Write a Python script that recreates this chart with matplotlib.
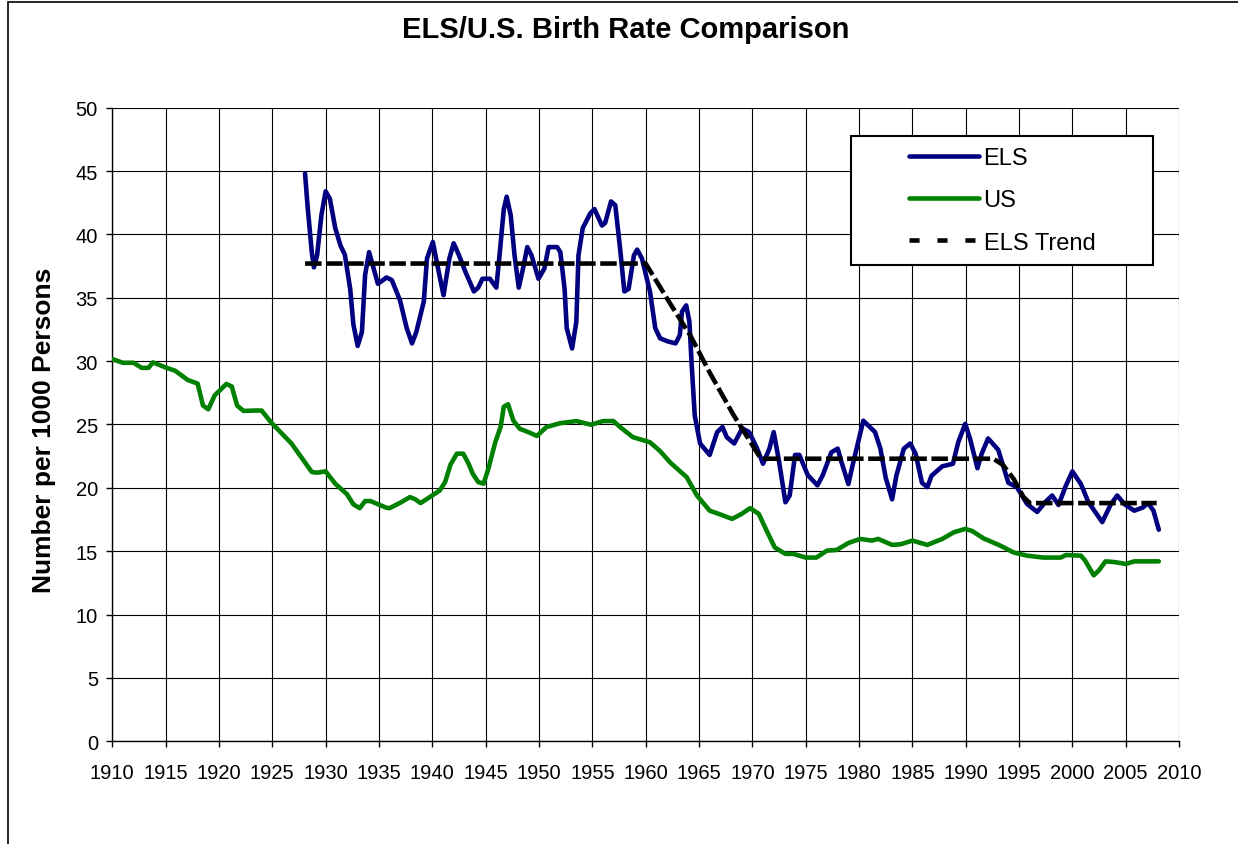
import matplotlib
matplotlib.use("Agg")
import matplotlib.pyplot as plt
from matplotlib.lines import Line2D
from matplotlib.patches import Rectangle

plt.rcParams['font.family'] = ['Liberation Sans', 'DejaVu Sans']

# ELS birth rate
els_years = [1928.07, 1928.3, 1928.7, 1928.9, 1929.2, 1929.6, 1930.0, 1930.4, 1930.9, 1931.4,
             1931.8, 1932.3, 1932.6, 1933.0, 1933.4, 1933.7, 1934.07, 1934.5, 1934.9, 1935.7,
             1936.2, 1936.97, 1937.6, 1938.1, 1938.5, 1939.2, 1939.5, 1940.05, 1940.6, 1941.05,
             1941.6, 1942.0, 1942.5, 1943.1, 1943.9, 1944.3, 1944.7, 1945.4, 1946.0, 1946.3,
             1946.7, 1946.97, 1947.35, 1947.7, 1948.1, 1948.5, 1948.9, 1949.3, 1949.95, 1950.5,
             1950.9, 1951.7, 1952.0, 1952.4, 1952.6, 1953.1, 1953.5, 1953.7, 1954.1, 1954.8,
             1955.2, 1955.9, 1956.2, 1956.75, 1957.15, 1957.6, 1958.0, 1958.4, 1958.9, 1959.2,
             1959.65, 1960.4, 1960.9, 1961.35, 1962.1, 1962.8, 1963.2, 1963.4, 1963.8, 1964.1,
             1964.3, 1964.6, 1965.1, 1966.0, 1966.7, 1967.2, 1967.6, 1968.3, 1969.05, 1969.7,
             1970.45, 1971.0, 1971.6, 1972.0, 1972.5, 1973.1, 1973.5, 1974.0, 1974.4, 1975.2,
             1976.1, 1976.6, 1977.4, 1978.0, 1978.35, 1979.0, 1979.4, 1980.4, 1981.5, 1982.0,
             1982.5, 1983.1, 1983.5, 1984.2, 1984.8, 1985.3, 1985.9, 1986.4, 1986.8, 1987.8,
             1988.8, 1989.3, 1989.95, 1990.4, 1991.1, 1991.5, 1992.1, 1993.05, 1994.0, 1994.8,
             1995.75, 1996.7, 1997.45, 1998.1, 1998.7, 1999.4, 2000.0, 2000.8, 2001.5, 2002.8,
             2003.6, 2004.2, 2004.9, 2005.8, 2006.6, 2007.1, 2007.6, 2008.1]
els_rate = [44.8, 42.3, 38.6, 37.4, 38.35, 41.5, 43.4, 42.8, 40.5, 39.1,
            38.4, 35.7, 32.9, 31.2, 32.3, 36.8, 38.6, 37.3, 36.1, 36.6,
            36.4, 34.8, 32.6, 31.4, 32.3, 34.7, 38.1, 39.4, 37.05, 35.2,
            38.1, 39.3, 38.35, 37.05, 35.5, 35.8, 36.5, 36.5, 35.8, 38.35,
            42.0, 42.97, 41.5, 38.4, 35.8, 37.3, 39.0, 38.35, 36.5, 37.3,
            39.0, 39.0, 38.6, 35.7, 32.6, 31.0, 33.1, 38.35, 40.5, 41.65,
            42.0, 40.7, 40.9, 42.6, 42.3, 38.9, 35.5, 35.7, 38.35, 38.8,
            38.1, 35.5, 32.6, 31.8, 31.55, 31.4, 32.05, 33.9, 34.4, 33.1,
            29.9, 25.7, 23.5, 22.6, 24.4, 24.8, 24.0, 23.5, 24.7, 24.4,
            23.1, 21.9, 23.1, 24.4, 22.1, 18.86, 19.4, 22.6, 22.6, 21.0,
            20.2, 21.0, 22.8, 23.1, 22.05, 20.3, 21.8, 25.3, 24.4, 23.1,
            20.8, 19.1, 20.96, 23.1, 23.5, 22.7, 20.4, 20.05, 20.96, 21.7,
            21.9, 23.6, 25.05, 23.9, 21.55, 22.7, 23.9, 23.0, 20.4, 20.05,
            18.73, 18.1, 18.87, 19.4, 18.65, 20.2, 21.3, 20.3, 18.87, 17.3,
            18.7, 19.4, 18.7, 18.2, 18.45, 18.8, 18.2, 16.7]

# US birth rate
us_years = [1910, 1911.0, 1912, 1912.75, 1913.4, 1913.8, 1915.1, 1915.9, 1917.1, 1918,
            1918.5, 1919, 1919.6, 1920.7, 1921.2, 1921.7, 1922.3, 1923.4, 1924, 1924.9,
            1926.8, 1927.9, 1928.7, 1929.2, 1930, 1930.9, 1932.0, 1932.6, 1933.2, 1933.7,
            1934.2, 1935.7, 1936, 1937, 1937.9, 1938.4, 1938.9, 1940.1, 1940.7, 1941.2,
            1941.7, 1942.3, 1942.9, 1943.4, 1943.8, 1944.3, 1944.8, 1945.25, 1945.9, 1946.4,
            1946.7, 1947.1, 1947.6, 1948.2, 1949.0, 1949.8, 1950.7, 1951.97, 1953.5, 1954.9,
            1956.0, 1956.97, 1957.6, 1958.8, 1960.4, 1961.35, 1962.3, 1963.85, 1964.8, 1966.0,
            1967.0, 1968.1, 1969.0, 1969.8, 1970.6, 1971.35, 1972.1, 1973.1, 1973.85, 1975.0,
            1976.0, 1977.0, 1977.9, 1979.0, 1980.1, 1981.2, 1981.8, 1983.1, 1983.9, 1985.0,
            1986.4, 1987.8, 1988.9, 1989.95, 1990.6, 1991.7, 1993.1, 1994.5, 1995.75, 1997.3,
            1998.9, 1999.4, 2000.8, 2001.2, 2002.0, 2002.5, 2003.1, 2003.9, 2005.0, 2005.8,
            2008.1]
us_rate = [30.16, 29.87, 29.87, 29.47, 29.47, 29.9, 29.47, 29.24, 28.5, 28.23,
           26.5, 26.2, 27.3, 28.2, 28.0, 26.5, 26.07, 26.1, 26.1, 25.15,
           23.5, 22.2, 21.25, 21.2, 21.3, 20.33, 19.5, 18.7, 18.4, 18.96,
           18.96, 18.43, 18.4, 18.83, 19.27, 19.1, 18.8, 19.46, 19.8, 20.46,
           21.83, 22.7, 22.7, 21.9, 21.1, 20.46, 20.33, 21.5, 23.6, 24.8,
           26.4, 26.6, 25.3, 24.66, 24.4, 24.1, 24.8, 25.1, 25.27, 24.98,
           25.27, 25.27, 24.8, 24.0, 23.6, 22.9, 22.0, 20.84, 19.4, 18.2,
           17.9, 17.55, 17.95, 18.4, 17.95, 16.6, 15.3, 14.79, 14.79, 14.5,
           14.5, 15.05, 15.1, 15.65, 15.97, 15.84, 15.97, 15.5, 15.55, 15.84,
           15.5, 15.97, 16.5, 16.76, 16.6, 16.0, 15.5, 14.9, 14.65, 14.5,
           14.5, 14.7, 14.65, 14.25, 13.1, 13.5, 14.2, 14.15, 14.0, 14.2,
           14.2]

# ELS trend
trend_years = [1928.07, 1960.0, 1962.4, 1964.2, 1966.0, 1968.2, 1970.8,
               1992.6, 1993.5, 1994.5, 1995.4, 1996.0, 2007.9]
trend_rate = [37.7, 37.7, 34.4, 32.0, 29.1, 25.8, 22.3,
              22.3, 21.8, 20.7, 19.3, 18.8, 18.8]

x_ticks = list(range(1910, 2011, 5))
y_ticks = list(range(0, 51, 5))

fig = plt.figure(figsize=(12.38, 8.45), dpi=100)
ax = fig.add_axes([0.0907, 0.1215, 0.8617, 0.7499])

ax.plot(us_years, us_rate, color='#008000', lw=3.3, solid_capstyle='round',
        solid_joinstyle='round', zorder=3)
ax.plot(els_years, els_rate, color='#000080', lw=3.3, solid_capstyle='round',
        solid_joinstyle='round', zorder=3)
ax.plot(trend_years, trend_rate, color='black', lw=3.3, dashes=(3.6, 1.0), zorder=4)

ax.set_xlim(1910, 2010)
ax.set_ylim(0, 50)
ax.set_xticks(x_ticks)
ax.set_yticks(y_ticks)
ax.grid(True, color='black', lw=0.8)
ax.set_axisbelow(True)
for s in ['top', 'right']:
    ax.spines[s].set_visible(False)
for s in ['left', 'bottom']:
    ax.spines[s].set_linewidth(1)
ax.tick_params(axis='both', direction='out', length=4.3, width=1, labelsize=14.5)
ax.tick_params(axis='x', pad=11)
ax.tick_params(axis='y', pad=6)

# legend with its own box
box = Rectangle((0.6925, 0.7517), 0.2831, 0.2036, transform=ax.transAxes,
                facecolor='white', edgecolor='black', lw=1.5, zorder=6)
ax.add_patch(box)
handles = [Line2D([], [], color='#000080', lw=3.3, solid_capstyle='round'),
           Line2D([], [], color='#008000', lw=3.3, solid_capstyle='round'),
           Line2D([], [], color='black', lw=3.3, dashes=(2.2, 3.9))]
leg = ax.legend(handles, ['ELS', 'US', 'ELS Trend'], loc='center',
                bbox_to_anchor=(0.834, 0.8535), frameon=False, fontsize=17,
                handlelength=2.97, handletextpad=0.2, labelspacing=0.85)
leg.set_zorder(7)

fig.text(626 / 1238, 1 - 30 / 845, 'ELS/U.S. Birth Rate Comparison',
         ha='center', va='center', fontsize=21, fontweight='bold')
fig.text(44 / 1238, 1 - 430 / 845, 'Number per 1000 Persons', rotation=90,
         ha='center', va='center', fontsize=19, fontweight='bold')

# outer chart border (cropped on right and bottom)
fig.patches.append(Rectangle((8 / 1238, -0.5), 2, 0.5 + 1 - 3 / 845,
                             transform=fig.transFigure, fill=False,
                             edgecolor='black', lw=1.2))

fig.savefig('out.png', dpi=100)
